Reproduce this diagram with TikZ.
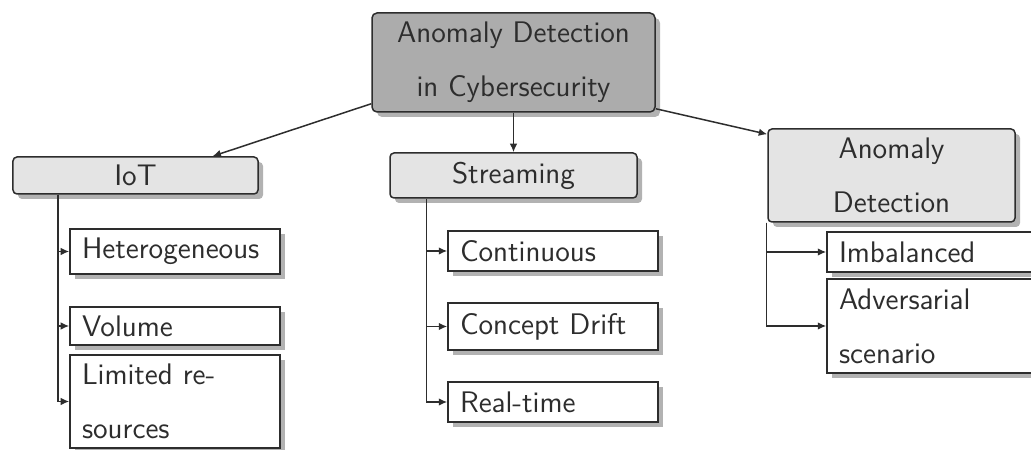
\documentclass[tikz,border=0pt]{standalone}
\usetikzlibrary{shadows,arrows.meta,calc}
\definecolor{rootgray}{RGB}{172,172,172}
\definecolor{lvlgray}{RGB}{228,228,228}
\definecolor{inkgray}{RGB}{45,45,45}
\hfuzz=20pt
\begin{document}
\begin{tikzpicture}[x=0.4pt,y=-0.4pt,
  font=\sffamily\fontsize{11.9}{21.6}\selectfont, text=inkgray,
  box/.style={draw=inkgray, line width=0.6pt, inner sep=0pt,
    drop shadow={shadow xshift=2pt, shadow yshift=-2pt, fill=black, opacity=0.3}},
  rootbox/.style={box, rounded corners=2pt, fill=rootgray, minimum width=113.2pt, minimum height=39.6pt, align=center},
  catbox/.style={box, rounded corners=1.6pt, fill=lvlgray, minimum width=98.8pt, align=center},
  leafbox/.style={box, fill=white, minimum width=84pt, text width=74.4pt, inner xsep=4.8pt, align=left},
  conn/.style={draw=inkgray, line width=0.6pt, -{Latex[length=3.4pt,width=3pt]}}
]
\useasboundingbox (0,0) rectangle (1031,450);

\node[rootbox] (root) at (513.5,62.5) {Anomaly Detection\\in Cybersecurity};

\node[catbox, minimum width=98pt, minimum height=14.8pt] (iot) at (135.5,175.5) {IoT};
\node[catbox, minimum height=18pt] (str) at (513.5,175.5) {Streaming};
\node[catbox, minimum height=37.2pt] (ad) at (891.5,175.5) {Anomaly\\Detection};

\node[leafbox, minimum height=18pt] (het) at (175,251.5) {Heterogeneous};
\node[leafbox, minimum height=15.2pt] (vol) at (175,326) {Volume};
\node[leafbox, minimum height=37.2pt] (lim) at (175,401.5) {Limited re-\\sources};

\node[leafbox, minimum height=16pt] (con) at (553,251) {Continuous};
\node[leafbox, minimum height=18.8pt] (cd) at (553,326.5) {Concept Drift};
\node[leafbox, minimum height=16pt] (rt) at (553,402) {Real-time};

\node[leafbox, minimum height=16pt] (imb) at (932,252) {Imbalanced};
\node[leafbox, minimum height=37.6pt] (adv) at (932,326) {Adversarial\\scenario};

% top-level connectors
\draw[conn] ($(root.south west)+(0,-9)$) -- ($(iot.north)+(77,0)$);
\draw[conn] (root.south) -- (str.north);
\draw[conn] ($(root.south east)+(0,-4)$) -- ($(ad.north west)+(0,6)$);

% trunks
\coordinate (t1) at ($(iot.south west)+(46,0)$);
\coordinate (t2) at ($(str.south west)+(37,0)$);
\coordinate (t3) at ($(ad.south west)+(-1,0)$);

\draw[conn] (t1) |- (het.west);
\draw[conn] (t1) |- (vol.west);
\draw[conn] (t1) |- (lim.west);

\draw[conn] (t2) |- (con.west);
\draw[conn] (t2) |- (cd.west);
\draw[conn] (t2) |- (rt.west);

\draw[conn] (t3) |- (imb.west);
\draw[conn] (t3) |- (adv.west);
\end{tikzpicture}
\end{document}
